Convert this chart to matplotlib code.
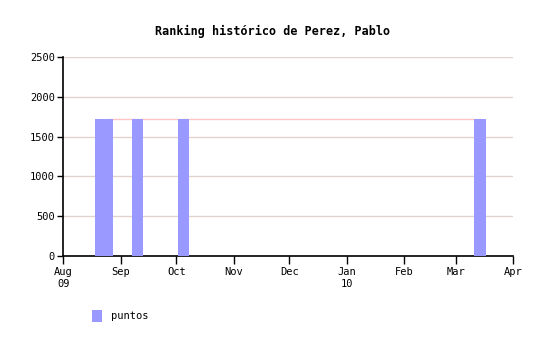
import matplotlib
matplotlib.use('Agg')
import matplotlib.pyplot as plt
from datetime import date

# data
bar_dates  = [date(2009, 8, 21), date(2009, 8, 25), date(2009, 9, 10),
              date(2009, 10, 5), date(2010, 3, 14)]
bar_values = [1725, 1725, 1725, 1725, 1725]
line_dates  = [date(2009, 8, 25), date(2010, 3, 14)]
line_values = [1725, 1725]
month_ticks  = [date(2009, 8, 1), date(2009, 9, 1), date(2009, 10, 1), date(2009, 11, 1),
                date(2009, 12, 1), date(2010, 1, 1), date(2010, 2, 1), date(2010, 3, 1),
                date(2010, 4, 1)]
month_labels = ['Aug\n09', 'Sep', 'Oct', 'Nov', 'Dec', 'Jan\n10', 'Feb', 'Mar', 'Apr']
y_ticks = [0, 500, 1000, 1500, 2000, 2500]

plt.rcParams['font.family'] = 'DejaVu Sans Mono'

fig = plt.figure(figsize=(5.46, 3.4), dpi=100)
ax = fig.add_axes([63.3/546, 1 - 256/340, 450/546, 199/340])

ax.plot(line_dates, line_values, color='#ffc4c4', lw=1, zorder=2)
ax.bar(bar_dates, bar_values, width=6, color='#9999ff', lw=0, zorder=3, label='puntos')

ax.set_xlim(month_ticks[0], month_ticks[-1])
ax.set_ylim(0, 2500)
ax.set_yticks(y_ticks)
ax.set_xticks(month_ticks)
ax.set_xticklabels(month_labels, fontsize=7.5)
ax.tick_params(axis='y', labelsize=7.5, length=4, width=1, pad=2)
ax.tick_params(axis='x', length=6, width=1, pad=2)
ax.yaxis.grid(True, color='#e2d4cc', lw=1, zorder=0)
ax.set_axisbelow(True)
for s in ['top', 'right']:
    ax.spines[s].set_visible(False)
for s in ['left', 'bottom']:
    ax.spines[s].set_linewidth(1.2)

fig.text(0.5, 1 - 31/340, 'Ranking histórico de Perez, Pablo', ha='center', va='center',
         fontsize=8.5, fontweight='bold')
ax.legend(loc='center left', bbox_to_anchor=(92/546, 1 - 316/340), bbox_transform=fig.transFigure,
          frameon=False, fontsize=7.5, handlelength=1.0, handleheight=1.4, handletextpad=0.8,
          borderpad=0, borderaxespad=0)

fig.savefig('out.png', dpi=100)
